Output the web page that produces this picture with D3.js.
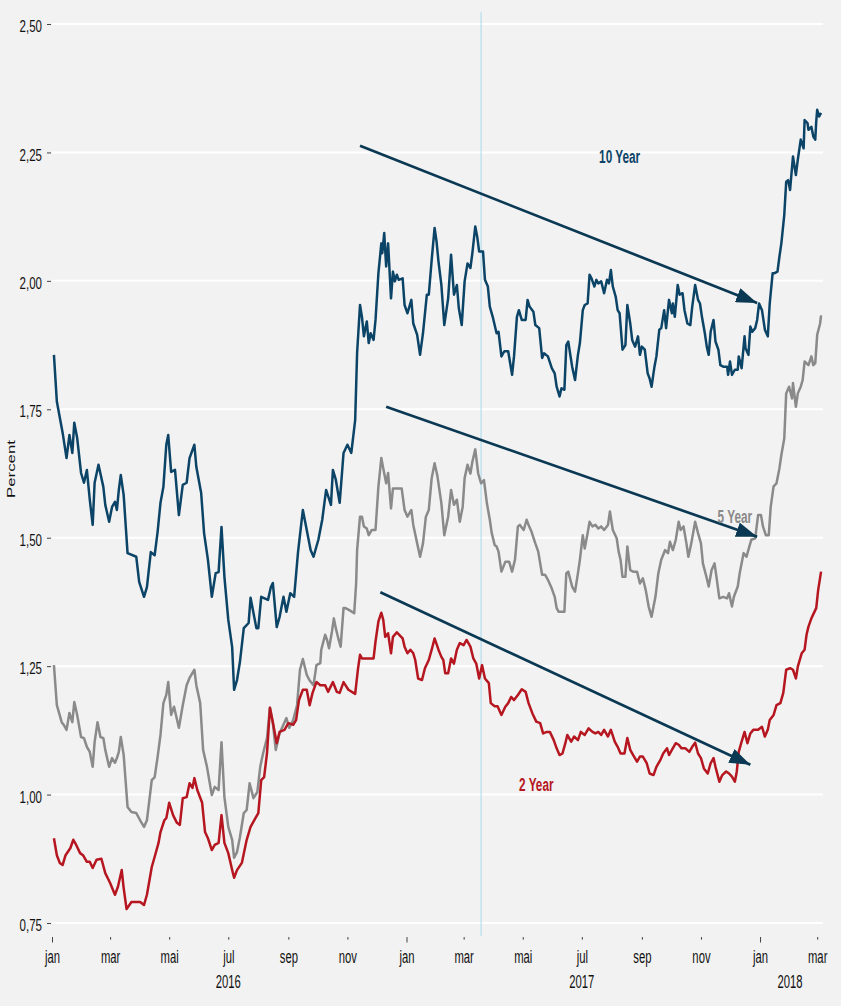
<!DOCTYPE html>
<html>
<head>
<meta charset="utf-8">
<script src="https://cdn.jsdelivr.net/npm/d3@7/dist/d3.min.js"></script>
<style>
  body { margin: 0; background: #f2f2f2; }
  svg { display: block; }
</style>
</head>
<body>
<script>
// each point is [days since 2016-01-01, yield in percent]
var tenYear = [
  [2,1.856],[5,1.765],[11,1.704],[15,1.655],[18,1.70],[21,1.665],[23,1.724],[26,1.694],[30,1.626],[33,1.607],
  [36,1.632],[39,1.574],[42,1.525],[44,1.607],[48,1.642],[53,1.599],[55,1.564],[59,1.531],[62,1.56],[65,1.57],
  [67,1.554],[69,1.593],[71,1.622],[74,1.583],[78,1.47],[87,1.463],[90,1.414],[95,1.385],[98,1.404],[102,1.472],
  [106,1.466],[109,1.511],[112,1.568],[115,1.599],[118,1.681],[120,1.70],[123,1.628],[127,1.632],[131,1.544],[135,1.603],
  [139,1.607],[142,1.655],[147,1.681],[149,1.638],[154,1.587],[157,1.509],[161,1.457],[165,1.385],[169,1.431],[172,1.433],
  [175,1.521],[178,1.424],[182,1.34],[186,1.287],[188,1.204],[191,1.223],[194,1.258],[198,1.324],[203,1.334],[205,1.383],
  [211,1.324],[213,1.324],[216,1.385],[223,1.379],[226,1.404],[228,1.412],[232,1.326],[235,1.346],[239,1.385],[242,1.356],
  [246,1.392],[250,1.385],[254,1.472],[259,1.554],[263,1.515],[267,1.476],[270,1.463],[275,1.496],[279,1.535],[283,1.593],
  [288,1.564],[290,1.632],[293,1.613],[297,1.568],[301,1.665],[305,1.681],[309,1.665],[313,1.729],[315,1.86],[318,1.953],
  [320,1.93],[322,1.892],[325,1.921],[327,1.879],[329,1.898],[332,1.885],[334,1.924],[337,2.015],[340,2.073],[341,2.054],
  [343,2.093],[345,2.028],[347,2.073],[350,1.966],[352,2.018],[354,1.999],[356,2.012],[358,2.002],[362,2.005],[364,1.953],
  [367,1.937],[371,1.963],[373,1.917],[377,1.895],[380,1.856],[383,1.898],[387,1.973],[389,1.973],[392,2.041],[395,2.103],
  [397,2.077],[399,2.038],[402,1.992],[405,1.914],[409,1.966],[412,2.051],[415,1.973],[418,1.992],[420,1.947],[423,1.914],
  [426,1.999],[429,2.034],[432,2.025],[434,2.054],[437,2.106],[439,2.086],[441,2.057],[445,2.057],[447,2.002],[450,1.989],
  [452,1.95],[455,1.93],[457,1.914],[459,1.898],[461,1.901],[464,1.853],[467,1.863],[471,1.863],[475,1.817],[477,1.853],
  [480,1.93],[482,1.943],[485,1.924],[489,1.924],[491,1.963],[493,1.95],[497,1.94],[499,1.914],[503,1.908],[506,1.85],
  [508,1.859],[512,1.853],[516,1.83],[519,1.82],[521,1.794],[524,1.775],[526,1.791],[529,1.788],[531,1.875],[533,1.882],
  [537,1.833],[540,1.807],[543,1.856],[545,1.879],[548,1.943],[550,1.953],[553,1.956],[555,2.012],[557,2.005],[560,1.989],
  [562,2.002],[564,1.995],[567,1.999],[570,1.976],[573,2.002],[575,1.995],[577,2.021],[579,1.989],[582,1.969],[584,1.943],
  [586,1.937],[589,1.866],[592,1.875],[594,1.953],[597,1.917],[599,1.885],[602,1.872],[605,1.892],[607,1.856],[609,1.872],
  [612,1.866],[615,1.82],[617,1.81],[619,1.794],[622,1.833],[624,1.853],[627,1.905],[629,1.908],[632,1.943],[634,1.908],
  [637,1.963],[640,1.937],[641,1.956],[643,1.93],[646,1.992],[648,1.973],[651,1.976],[653,1.943],[656,1.917],[659,1.914],
  [661,1.95],[664,1.992],[667,1.963],[669,1.956],[671,1.93],[674,1.898],[676,1.872],[678,1.856],[680,1.901],[683,1.924],
  [685,1.882],[688,1.866],[690,1.836],[693,1.833],[697,1.833],[698,1.817],[700,1.843],[702,1.817],[705,1.827],[708,1.827],
  [709,1.853],[712,1.83],[715,1.892],[716,1.869],[719,1.856],[721,1.911],[723,1.901],[726,1.908],[728,1.924],[730,1.956],
  [733,1.943],[736,1.905],[739,1.892],[741,1.956],[744,2.015],[746,2.015],[749,2.018],[751,2.047],[753,2.073],[756,2.128],
  [758,2.193],[760,2.196],[762,2.177],[765,2.242],[768,2.206],[770,2.236],[773,2.275],[776,2.258],[777,2.313],[780,2.307],
  [781,2.294],[784,2.30],[786,2.281],[788,2.275],[789,2.31],[790,2.333],[792,2.32],[794,2.327]
];

var fiveYear = [
  [2,1.252],[5,1.174],[10,1.141],[12,1.136],[15,1.126],[18,1.159],[21,1.141],[23,1.18],[26,1.155],[30,1.112],
  [33,1.11],[36,1.093],[39,1.083],[42,1.054],[44,1.102],[47,1.141],[50,1.112],[53,1.11],[55,1.087],[59,1.054],
  [62,1.071],[65,1.062],[67,1.071],[69,1.083],[71,1.112],[74,1.077],[78,0.976],[82,0.966],[87,0.964],[91,0.95],
  [95,0.937],[98,0.95],[103,1.028],[106,1.034],[109,1.073],[112,1.116],[115,1.178],[118,1.194],[120,1.219],[123,1.155],
  [126,1.171],[131,1.13],[135,1.174],[139,1.213],[142,1.227],[147,1.243],[149,1.213],[153,1.178],[156,1.087],[160,1.054],
  [165,0.999],[168,1.015],[172,1.009],[175,1.102],[178,0.995],[182,0.937],[186,0.912],[188,0.877],[191,0.888],[194,0.917],
  [198,0.964],[201,0.97],[204,1.022],[208,0.993],[212,1.005],[215,1.054],[218,1.081],[222,1.11],[225,1.169],[228,1.139],
  [231,1.087],[235,1.12],[238,1.132],[242,1.149],[245,1.13],[249,1.145],[253,1.174],[256,1.243],[259,1.264],[263,1.233],
  [266,1.222],[270,1.213],[273,1.252],[277,1.256],[278,1.282],[282,1.311],[284,1.301],[286,1.285],[289,1.317],[291,1.343],
  [293,1.324],[296,1.301],[298,1.288],[301,1.363],[303,1.363],[307,1.359],[312,1.353],[314,1.411],[315,1.476],[318,1.541],
  [320,1.541],[322,1.522],[325,1.518],[327,1.505],[330,1.515],[334,1.515],[337,1.60],[340,1.655],[342,1.635],[345,1.606],
  [347,1.626],[350,1.557],[352,1.596],[356,1.596],[361,1.596],[364,1.554],[367,1.541],[371,1.554],[373,1.525],[377,1.489],
  [380,1.463],[383,1.489],[386,1.541],[389,1.554],[392,1.616],[395,1.645],[398,1.619],[402,1.567],[405,1.505],[409,1.541],
  [412,1.593],[415,1.564],[418,1.574],[421,1.531],[424,1.56],[426,1.616],[429,1.642],[432,1.625],[434,1.648],[437,1.672],
  [440,1.625],[443,1.606],[446,1.612],[449,1.567],[452,1.535],[454,1.509],[457,1.486],[459,1.483],[461,1.473],[464,1.434],
  [468,1.453],[472,1.453],[475,1.434],[478,1.457],[481,1.522],[483,1.525],[487,1.515],[490,1.535],[492,1.525],[495,1.512],
  [499,1.489],[502,1.473],[506,1.428],[509,1.428],[512,1.418],[516,1.401],[519,1.385],[521,1.363],[523,1.356],[526,1.356],
  [529,1.356],[531,1.431],[533,1.434],[537,1.405],[540,1.395],[543,1.431],[545,1.457],[548,1.505],[550,1.479],[553,1.509],
  [555,1.531],[558,1.522],[561,1.525],[564,1.518],[567,1.522],[570,1.515],[574,1.525],[576,1.551],[579,1.515],[583,1.499],
  [585,1.473],[587,1.457],[589,1.424],[592,1.424],[594,1.483],[597,1.437],[600,1.434],[604,1.434],[607,1.411],[610,1.421],
  [613,1.398],[616,1.366],[619,1.346],[623,1.385],[626,1.431],[629,1.457],[633,1.476],[636,1.47],[638,1.492],[641,1.476],
  [644,1.496],[647,1.531],[649,1.515],[652,1.522],[655,1.489],[657,1.463],[660,1.489],[664,1.531],[667,1.509],[670,1.489],
  [672,1.45],[676,1.421],[678,1.405],[681,1.437],[684,1.45],[686,1.424],[689,1.382],[693,1.385],[697,1.382],[699,1.392],
  [702,1.366],[704,1.385],[708,1.405],[710,1.431],[714,1.47],[717,1.463],[720,1.483],[722,1.496],[726,1.499],[729,1.544],
  [732,1.544],[734,1.522],[737,1.505],[740,1.505],[742,1.56],[745,1.60],[748,1.606],[751,1.635],[753,1.661],[756,1.693],
  [758,1.781],[761,1.794],[764,1.771],[765,1.801],[768,1.755],[770,1.781],[773,1.794],[775,1.807],[777,1.843],[781,1.836],
  [784,1.853],[786,1.836],[788,1.84],[790,1.895],[793,1.917],[794,1.933]
];

var twoYear = [
  [2,0.915],[5,0.882],[8,0.867],[11,0.863],[14,0.882],[19,0.896],[22,0.912],[25,0.902],[29,0.886],[32,0.882],
  [36,0.869],[39,0.869],[42,0.857],[46,0.873],[51,0.875],[55,0.847],[60,0.828],[65,0.805],[68,0.82],[72,0.853],
  [74,0.818],[77,0.777],[82,0.791],[91,0.791],[95,0.785],[98,0.805],[103,0.859],[106,0.879],[110,0.906],[112,0.927],
  [116,0.95],[118,0.954],[121,0.984],[125,0.96],[129,0.945],[132,0.941],[135,0.993],[139,0.995],[142,1.022],[145,1.013],
  [147,1.032],[150,1.009],[155,0.984],[158,0.927],[161,0.915],[165,0.892],[168,0.902],[172,0.906],[175,0.96],[178,0.906],
  [182,0.886],[186,0.853],[188,0.838],[191,0.853],[196,0.867],[201,0.912],[205,0.937],[210,0.954],[213,0.964],[216,1.028],
  [219,1.034],[222,1.081],[225,1.169],[228,1.141],[232,1.10],[235,1.122],[240,1.126],[244,1.139],[249,1.136],[252,1.145],
  [255,1.184],[259,1.204],[263,1.204],[266,1.174],[269,1.198],[273,1.219],[277,1.213],[282,1.213],[285,1.20],[290,1.219],
  [294,1.20],[297,1.198],[301,1.219],[306,1.204],[313,1.196],[316,1.246],[318,1.272],[320,1.265],[325,1.265],[332,1.265],
  [334,1.298],[337,1.337],[340,1.354],[342,1.34],[344,1.307],[347,1.314],[350,1.275],[352,1.307],[356,1.316],[359,1.31],
  [362,1.304],[364,1.288],[367,1.275],[370,1.282],[373,1.275],[375,1.262],[378,1.226],[382,1.223],[385,1.246],[389,1.262],
  [392,1.282],[395,1.304],[399,1.282],[402,1.268],[404,1.262],[406,1.236],[409,1.236],[412,1.265],[415,1.255],[418,1.282],
  [421,1.295],[425,1.291],[428,1.301],[432,1.288],[435,1.265],[438,1.255],[441,1.226],[444,1.252],[447,1.226],[451,1.217],
  [453,1.178],[457,1.172],[460,1.172],[464,1.155],[468,1.171],[471,1.178],[474,1.19],[477,1.184],[481,1.194],[485,1.205],
  [489,1.20],[492,1.178],[496,1.158],[500,1.142],[504,1.139],[507,1.119],[511,1.122],[514,1.122],[518,1.106],[521,1.09],
  [524,1.077],[527,1.08],[530,1.10],[532,1.116],[536,1.103],[539,1.113],[543,1.106],[546,1.122],[550,1.116],[554,1.129],
  [558,1.122],[561,1.119],[564,1.122],[567,1.116],[570,1.126],[574,1.113],[577,1.126],[581,1.103],[584,1.093],[587,1.08],
  [591,1.08],[594,1.11],[597,1.087],[600,1.077],[604,1.064],[607,1.074],[610,1.074],[614,1.061],[617,1.041],[621,1.038],
  [624,1.054],[628,1.067],[631,1.08],[635,1.09],[637,1.077],[640,1.087],[644,1.10],[647,1.097],[650,1.09],[654,1.09],
  [658,1.083],[661,1.093],[664,1.101],[667,1.08],[670,1.071],[673,1.051],[677,1.041],[680,1.061],[683,1.071],[685,1.054],
  [689,1.025],[692,1.038],[696,1.045],[699,1.041],[702,1.035],[705,1.025],[707,1.045],[709,1.083],[712,1.103],[715,1.122],
  [718,1.10],[721,1.119],[724,1.126],[729,1.126],[733,1.132],[736,1.113],[739,1.126],[741,1.145],[745,1.155],[748,1.174],
  [752,1.178],[755,1.198],[758,1.243],[762,1.246],[765,1.243],[768,1.226],[770,1.249],[774,1.275],[777,1.282],[779,1.311],
  [781,1.327],[784,1.343],[788,1.359],[789,1.363],[791,1.398],[794,1.434]
];

var yTicks = [0.75, 1.00, 1.25, 1.50, 1.75, 2.00, 2.25, 2.50];
var monthNames = ['jan', 'feb', 'mar', 'apr', 'mai', 'jun', 'jul', 'aug', 'sep', 'okt', 'nov', 'des'];
var yearNames = ['2016', '2017', '2018'];
var yearDates = ['2016-07-01', '2017-07-01', '2018-02-01'];
var markerDate = '2017-03-19';

var seriesNames = ['10 Year', '5 Year', '2 Year'];
var seriesColors = ['#0c4467', '#8a8a8a', '#b5161f'];
var labelDates = ['2017-08-09', '2017-12-06', '2017-05-15'];
var labelValues = [2.23, 1.529, 1.007];

var arrowFromDates = ['2016-11-14', '2016-12-11', '2016-12-05'];
var arrowFromValues = [2.263, 1.755, 1.394];
var arrowToDates = ['2017-12-29', '2017-12-29', '2017-12-22'];
var arrowToValues = [1.957, 1.502, 1.058];

var width = 841, height = 1006;
var parseDate = d3.timeParse('%Y-%m-%d');
var startDate = parseDate('2016-01-01');
var dayToDate = function(d) { return d3.timeDay.offset(startDate, d); };

var x = d3.scaleTime()
  .domain([startDate, parseDate('2018-03-07')])
  .range([52, 823]);
var y = d3.scaleLinear()
  .domain([0.7247, 2.5234])
  .range([936, 12]);

var svg = d3.select('body').append('svg')
  .attr('width', width)
  .attr('height', height)
  .style('font-family', '"Liberation Sans", Arial, sans-serif');

svg.append('rect')
  .attr('width', width)
  .attr('height', height)
  .style('fill', '#f2f2f2');

// squeeze text horizontally, keeping its anchor point
var squeeze = function(sel, k) {
  sel.each(function() {
    var t = d3.select(this);
    var tx = +t.attr('x') || 0;
    t.attr('x', 0).attr('transform', 'translate(' + tx + ',0) scale(' + k + ',1)');
  });
};

// gridlines
svg.append('g').selectAll('line')
  .data(yTicks)
  .enter().append('line')
  .attr('x1', x.range()[0])
  .attr('x2', x.range()[1])
  .attr('y1', function(d) { return y(d); })
  .attr('y2', function(d) { return y(d); })
  .style('stroke', '#ffffff')
  .style('stroke-width', 2);

// marker line
svg.append('line')
  .attr('x1', x(parseDate(markerDate)))
  .attr('x2', x(parseDate(markerDate)))
  .attr('y1', y.range()[0])
  .attr('y2', y.range()[1])
  .style('stroke', '#a9d8ee')
  .style('stroke-width', 1);

// y axis
var commaFormat = function(d) { return d3.format('.2f')(d).replace('.', ','); };
var yAxisG = svg.append('g')
  .attr('transform', 'translate(51,0)')
  .call(d3.axisLeft(y).tickValues(yTicks).tickSize(4).tickPadding(5).tickFormat(commaFormat));
yAxisG.select('.domain').remove();
yAxisG.selectAll('line').style('stroke', '#444').style('stroke-width', 1);
yAxisG.selectAll('text')
  .style('font-size', '17px')
  .style('fill', '#111')
  .attr('dy', '0.45em')
  .call(squeeze, 0.68);

// x axis
var monthTicks = d3.timeMonth.every(2).range(startDate, parseDate('2018-03-02'));
var xAxisG = svg.append('g')
  .attr('transform', 'translate(0,937)')
  .call(d3.axisBottom(x).tickValues(monthTicks).tickSize(3)
    .tickFormat(function(d) { return monthNames[d.getMonth()]; }));
xAxisG.select('.domain').remove();
xAxisG.selectAll('line')
  .attr('y2', function(d) { return d.getMonth() === 0 ? 5.5 : 2.7; })
  .style('stroke', '#444')
  .style('stroke-width', 1);
xAxisG.selectAll('text')
  .attr('y', 26)
  .attr('dy', 0)
  .style('font-size', '18.5px')
  .style('fill', '#111')
  .call(squeeze, 0.61);

svg.append('g').selectAll('text')
  .data(yearNames)
  .enter().append('text')
  .attr('transform', function(d, i) { return 'translate(' + x(parseDate(yearDates[i])) + ',988) scale(0.61,1)'; })
  .attr('text-anchor', 'middle')
  .style('font-size', '18.5px')
  .style('fill', '#111')
  .text(function(d) { return d; });

svg.append('text')
  .attr('transform', 'translate(15.3,469) rotate(-90) scale(1,0.64)')
  .attr('text-anchor', 'middle')
  .style('font-size', '16.8px')
  .style('fill', '#111')
  .text('Percent');

// series
var line = d3.line()
  .x(function(d) { return x(dayToDate(d[0])); })
  .y(function(d) { return y(d[1]); });

[tenYear, fiveYear, twoYear].forEach(function(series, i) {
  svg.append('path')
    .datum(series)
    .attr('d', line)
    .style('fill', 'none')
    .style('stroke', seriesColors[i])
    .style('stroke-width', 2.5)
    .style('stroke-linejoin', 'round');
});

// trend arrows
svg.append('defs').append('marker')
  .attr('id', 'head')
  .attr('markerUnits', 'userSpaceOnUse')
  .attr('markerWidth', 21)
  .attr('markerHeight', 15)
  .attr('refX', 21)
  .attr('refY', 7.5)
  .attr('orient', 'auto')
  .append('path')
  .attr('d', 'M0,0 L21,7.5 L0,15 Z')
  .style('fill', '#0b3954');

svg.append('g').selectAll('line')
  .data(arrowFromDates)
  .enter().append('line')
  .attr('x1', function(d) { return x(parseDate(d)); })
  .attr('y1', function(d, i) { return y(arrowFromValues[i]); })
  .attr('x2', function(d, i) { return x(parseDate(arrowToDates[i])); })
  .attr('y2', function(d, i) { return y(arrowToValues[i]); })
  .attr('marker-end', 'url(#head)')
  .style('stroke', '#0b3954')
  .style('stroke-width', 2.7);

// series labels
svg.append('g').selectAll('text')
  .data(seriesNames)
  .enter().append('text')
  .attr('transform', function(d, i) {
    return 'translate(' + x(parseDate(labelDates[i])) + ',' + y(labelValues[i]) + ') scale(0.62,1)';
  })
  .attr('text-anchor', 'middle')
  .style('font-size', '19px')
  .style('font-weight', 'bold')
  .style('fill', function(d, i) { return seriesColors[i]; })
  .text(function(d) { return d; });
</script>
</body>
</html>
